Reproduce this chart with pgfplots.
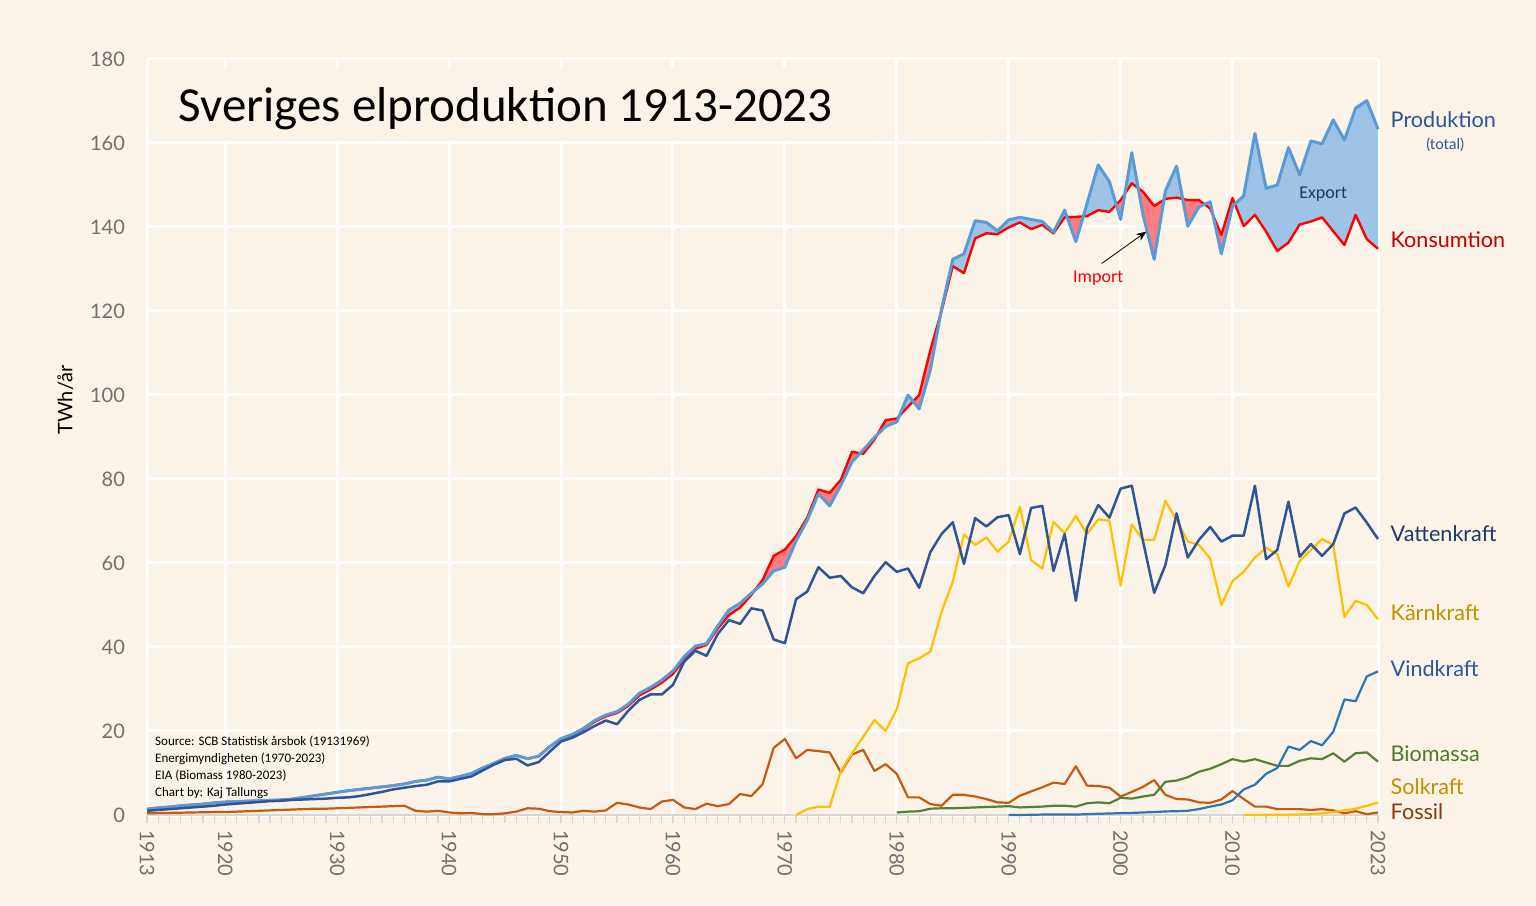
\documentclass[border=0pt]{standalone}
\usepackage{pgfplots}
\pgfplotsset{compat=1.18}
\usepackage{pgfplotstable}
\usepgfplotslibrary{fillbetween}
\usetikzlibrary{arrows.meta}
\usepackage{fontspec}
\setmainfont{Lato}
\newfontfamily\calibri{Carlito}

\definecolor{bg}{HTML}{FBF3E8}
\definecolor{axisgray}{HTML}{D6D6D6}
\definecolor{ticklab}{HTML}{707070}
\definecolor{prodc}{HTML}{5B9BD5}
\definecolor{consc}{HTML}{FF0000}
\definecolor{hydroc}{HTML}{2F5597}
\definecolor{nucc}{HTML}{FFC000}
\definecolor{fossilc}{HTML}{C55A11}
\definecolor{biomc}{HTML}{548235}
\definecolor{windc}{HTML}{2E75B6}
\definecolor{fillblue}{HTML}{9DC3E6}
\definecolor{fillred}{HTML}{FF7C80}
\definecolor{labprod}{HTML}{2F5597}
\definecolor{labcons}{HTML}{C00000}
\definecolor{labhydro}{HTML}{1F3864}
\definecolor{labgold}{HTML}{BF9000}
\definecolor{labbiom}{HTML}{4E7A2B}
\definecolor{labfossil}{HTML}{843C0C}
\definecolor{labexport}{HTML}{1F3864}
\pagecolor{bg}

\pgfplotstableread{
year prod cons hydro fossil
1913 1.4 1.4 1.0 0.4
1914 1.7 1.7 1.2 0.45
1915 1.9 1.9 1.4 0.5
1916 2.2 2.2 1.6 0.55
1917 2.4 2.4 1.8 0.6
1918 2.6 2.6 2.0 0.65
1919 2.9 2.9 2.2 0.7
1920 3.1 3.1 2.5 0.7
1921 3.2 3.2 2.7 0.8
1922 3.3 3.3 2.9 0.9
1923 3.4 3.4 3.1 1.0
1924 3.5 3.5 3.3 1.1
1925 3.6 3.6 3.4 1.2
1926 3.8 3.8 3.6 1.3
1927 4.2 4.2 3.7 1.4
1928 4.6 4.6 3.8 1.5
1929 5.0 5.0 3.9 1.5
1930 5.4 5.4 4.1 1.6
1931 5.8 5.8 4.2 1.7
1932 6.1 6.1 4.5 1.8
1933 6.4 6.4 5.0 1.9
1934 6.7 6.7 5.5 2.0
1935 7.0 7.0 6.1 2.1
1936 7.4 7.4 6.5 2.2
1937 8.0 8.0 6.9 1.0
1938 8.3 8.3 7.2 0.8
1939 9.0 9.0 8.0 1.0
1940 8.6 8.6 8.0 0.6
1941 9.2 9.2 8.6 0.4
1942 9.9 9.9 9.2 0.5
1943 11.2 11.2 10.6 0.2
1944 12.3 12.3 12.0 0.2
1945 13.5 13.5 13.1 0.4
1946 14.2 14.2 13.4 0.8
1947 13.4 13.4 11.8 1.6
1948 14.0 14.0 12.6 1.5
1949 16.3 16.3 15.1 0.9
1950 18.2 18.0 17.5 0.7
1951 19.2 19.0 18.4 0.6
1952 20.6 20.4 19.7 1.0
1953 22.5 22.2 21.2 0.8
1954 23.8 23.5 22.5 1.1
1955 24.6 24.3 21.6 2.9
1956 26.4 26.0 24.8 2.5
1957 29.0 28.5 27.4 1.8
1958 30.4 29.9 28.7 1.4
1959 32.1 31.5 28.7 3.2
1960 34.3 33.6 31.0 3.6
1961 37.7 37.0 36.5 1.8
1962 40.2 39.6 39.1 1.4
1963 40.8 40.5 37.9 2.7
1964 45.0 44.4 43.1 2.1
1965 48.8 47.6 46.4 2.6
1966 50.4 49.4 45.5 5.0
1967 52.8 52.4 49.2 4.5
1968 55.0 55.9 48.7 7.3
1969 58.1 61.7 41.8 16.0
1970 59.0 63.2 40.9 18.1
1971 65.3 66.4 51.4 13.5
1972 70.2 70.8 53.2 15.5
1973 76.5 77.5 59.0 15.2
1974 73.6 76.7 56.5 14.9
1975 78.5 79.8 56.9 10.2
1976 84.1 86.5 54.2 14.4
1977 86.9 86.0 52.8 15.5
1978 89.9 89.4 56.9 10.5
1979 92.5 94.0 60.2 12.1
1980 93.6 94.4 57.9 9.8
1981 100.0 97.2 58.7 4.2
1982 96.7 100.0 54.1 4.2
1983 106.0 110.7 62.6 2.6
1984 120.5 120.0 66.9 2.2
1985 132.3 130.7 69.7 4.8
1986 133.6 129.0 59.8 4.8
1987 141.5 137.3 70.7 4.4
1988 141.1 138.5 68.7 3.8
1989 139.1 138.3 70.9 3.0
1990 141.7 139.9 71.4 2.9
1991 142.3 141.1 62.1 4.6
1992 141.8 139.5 73.1 5.6
1993 141.3 140.5 73.6 6.6
1994 138.8 138.5 58.1 7.7
1995 144.0 142.3 66.9 7.4
1996 136.5 142.4 51.0 11.6
1997 145.6 142.6 68.3 7.0
1998 154.8 144.0 73.8 6.9
1999 150.8 143.6 70.8 6.5
2000 141.8 146.4 77.7 4.4
2001 157.7 150.4 78.4 5.5
2002 142.9 148.4 65.2 6.7
2003 132.3 145.0 52.9 8.3
2004 148.6 146.7 59.5 4.8
2005 154.5 147.0 71.8 3.8
2006 140.2 146.4 61.3 3.7
2007 144.8 146.4 65.5 3.0
2008 146.0 144.4 68.6 2.9
2009 133.6 138.1 65.1 3.7
2010 145.0 146.9 66.5 5.7
2011 147.4 140.2 66.5 3.8
2012 162.3 142.9 78.4 2.0
2013 149.2 138.9 60.9 2.0
2014 150.0 134.3 63.1 1.4
2015 158.9 136.3 74.6 1.4
2016 152.4 140.6 61.5 1.4
2017 160.5 141.3 64.5 1.2
2018 159.8 142.3 61.7 1.4
2019 165.5 139.0 64.5 1.1
2020 160.7 135.7 71.8 0.4
2021 168.3 142.9 73.2 0.9
2022 170.1 137.1 69.6 0.2
2023 163.3 134.8 65.7 0.6
}\main

\pgfplotstableread{
year nuc
1971 0.0
1972 1.4
1973 2.0
1974 1.9
1975 10.5
1976 14.7
1977 18.6
1978 22.6
1979 20.0
1980 25.2
1981 36.1
1982 37.3
1983 38.9
1984 48.4
1985 55.5
1986 66.8
1987 64.3
1988 66.1
1989 62.7
1990 65.1
1991 73.4
1992 60.7
1993 58.7
1994 69.8
1995 67.1
1996 71.2
1997 66.9
1998 70.4
1999 70.1
2000 54.6
2001 69.2
2002 65.5
2003 65.5
2004 74.8
2005 70.2
2006 65.1
2007 64.3
2008 61.1
2009 50.0
2010 55.7
2011 57.9
2012 61.3
2013 63.6
2014 62.1
2015 54.4
2016 60.5
2017 63.1
2018 65.7
2019 64.3
2020 47.2
2021 51.0
2022 50.0
2023 46.6
}\nuc

\pgfplotstableread{
year biom
1980 0.6
1981 0.8
1982 0.9
1983 1.5
1984 1.6
1985 1.6
1986 1.7
1987 1.8
1988 1.9
1989 2.0
1990 2.1
1991 1.8
1992 1.9
1993 2.0
1994 2.2
1995 2.2
1996 2.0
1997 2.8
1998 3.0
1999 2.8
2000 4.1
2001 3.9
2002 4.4
2003 4.8
2004 7.9
2005 8.2
2006 9.0
2007 10.3
2008 11.0
2009 12.1
2010 13.3
2011 12.7
2012 13.3
2013 12.5
2014 11.7
2015 11.7
2016 12.9
2017 13.5
2018 13.3
2019 14.7
2020 12.7
2021 14.7
2022 14.9
2023 12.7
}\biom

\pgfplotstableread{
year wind
1990 0.0
1991 0.0
1992 0.05
1993 0.1
1994 0.1
1995 0.1
1996 0.1
1997 0.2
1998 0.3
1999 0.35
2000 0.45
2001 0.5
2002 0.6
2003 0.7
2004 0.85
2005 0.9
2006 1.0
2007 1.4
2008 2.0
2009 2.5
2010 3.5
2011 6.1
2012 7.2
2013 9.8
2014 11.2
2015 16.3
2016 15.5
2017 17.6
2018 16.6
2019 19.8
2020 27.5
2021 27.1
2022 33.0
2023 34.2
}\wind

\pgfplotstableread{
year sol
2011 0.0
2012 0.0
2013 0.05
2014 0.05
2015 0.1
2016 0.15
2017 0.2
2018 0.4
2019 0.7
2020 1.1
2021 1.5
2022 2.2
2023 3.0
}\solar

\begin{document}
\begin{tikzpicture}
\path (0,0) rectangle (768pt,452.5pt);
\begin{axis}[
  at={(73.5pt,45pt)}, anchor=south west,
  width=615.5pt, height=378pt, scale only axis,
  xmin=1913, xmax=2023, ymin=0, ymax=180,
  axis x line*=bottom, axis y line*=left,
  x axis line style={draw=axisgray, line width=1pt, -},
  y axis line style={draw=none, -},
  xtick={1913,1920,1930,1940,1950,1960,1970,1980,1990,2000,2010,2023},
  minor xtick={1913,...,2023},
  ytick={0,20,...,180},
  grid=major,
  major grid style={white, line width=1.5pt},
  tick align=outside,
  major tick length=4pt, minor tick length=4pt,
  tick style={axisgray, line width=0.6pt},
  ytick style={draw=none},
  /pgf/number format/assume math mode=true,
  /pgf/number format/1000 sep={},
  tick label style={font=\fontsize{10}{12}\selectfont, text=ticklab},
  xticklabel style={rotate=-90, anchor=west},
  yticklabel style={xshift=-3.5pt},
  clip=false,
  no markers,
  every axis plot/.append style={line join=round},
]
% fill areas (export / import)
\addplot[draw=none, name path=P, skip coords between index={0}{49}, forget plot] table[x=year,y=prod]{\main};
\addplot[draw=none, name path=C, skip coords between index={0}{49}, forget plot] table[x=year,y=cons]{\main};
\addplot[fill=fillblue, draw=none] fill between[of=P and C, split, every odd segment/.style={fill=fillred}];

% title box
\fill[bg] (axis cs:1913.3,160.8) rectangle (axis cs:1975.5,177.9);
\node[anchor=base west, inner sep=0pt, font=\calibri\fontsize{24.5}{28}\selectfont] at (axis cs:1915.77,165.0) {Sveriges elproduktion 1913-2023};

% series
\addplot[fossilc, line width=1.1pt] table[x=year,y=fossil]{\main};
\addplot[biomc, line width=1.1pt] table[x=year,y=biom]{\biom};
\addplot[windc, line width=1.1pt] table[x=year,y=wind]{\wind};
\addplot[nucc, line width=1.1pt] table[x=year,y=sol]{\solar};
\addplot[nucc, line width=1.1pt] table[x=year,y=nuc]{\nuc};
\addplot[consc, line width=1.2pt] table[x=year,y=cons]{\main};
\addplot[prodc, line width=1.5pt] table[x=year,y=prod]{\main};
\addplot[hydroc, line width=1.25pt] table[x=year,y=hydro]{\main};

% annotations
\draw[-{Stealth[length=5pt,width=4pt]}, black, line width=0.4pt] (axis cs:1998.3,131.3) -- (axis cs:2002.3,138.9);
\node[font=\calibri\fontsize{9}{11}\selectfont, text=red] at (axis cs:1998.0,127.8) {Import};
\node[font=\calibri\fontsize{9}{11}\selectfont, text=labexport] at (axis cs:2018.1,147.9) {Export};

\node[anchor=north west, align=left, inner sep=0pt, font=\calibri\fontsize{6.5}{8.5}\selectfont] at (axis cs:1913.7,19.0) {Source: SCB Statistisk årsbok (19131969)\\Energimyndigheten (1970-2023)\\EIA (Biomass 1980-2023)\\Chart by: Kaj Tallungs};

\node[rotate=90, font=\fontsize{10}{12}\selectfont] at (axis cs:1905.7,98.8) {TWh/år};

% right labels
\node[anchor=west, inner sep=0pt, font=\fontsize{10.8}{13}\selectfont, text=labprod] at (axis cs:2024.1,165.5) {Produktion};
\node[inner sep=0pt, font=\fontsize{7.5}{9}\selectfont, text=labprod] at (axis cs:2029.0,159.5) {(total)};
\node[anchor=west, inner sep=0pt, font=\fontsize{10.8}{13}\selectfont, text=labcons] at (axis cs:2024.1,136.9) {Konsumtion};
\node[anchor=west, inner sep=0pt, font=\fontsize{10.8}{13}\selectfont, text=labhydro] at (axis cs:2024.1,66.9) {Vattenkraft};
\node[anchor=west, inner sep=0pt, font=\fontsize{10.8}{13}\selectfont, text=labgold] at (axis cs:2024.1,48.1) {Kärnkraft};
\node[anchor=west, inner sep=0pt, font=\fontsize{10.8}{13}\selectfont, text=labprod] at (axis cs:2024.1,34.8) {Vindkraft};
\node[anchor=west, inner sep=0pt, font=\fontsize{10.8}{13}\selectfont, text=labbiom] at (axis cs:2024.1,14.5) {Biomassa};
\node[anchor=west, inner sep=0pt, font=\fontsize{10.8}{13}\selectfont, text=labgold] at (axis cs:2024.1,6.7) {Solkraft};
\node[anchor=west, inner sep=0pt, font=\fontsize{10.8}{13}\selectfont, text=labfossil] at (axis cs:2024.1,0.7) {Fossil};
\end{axis}
\end{tikzpicture}
\end{document}
